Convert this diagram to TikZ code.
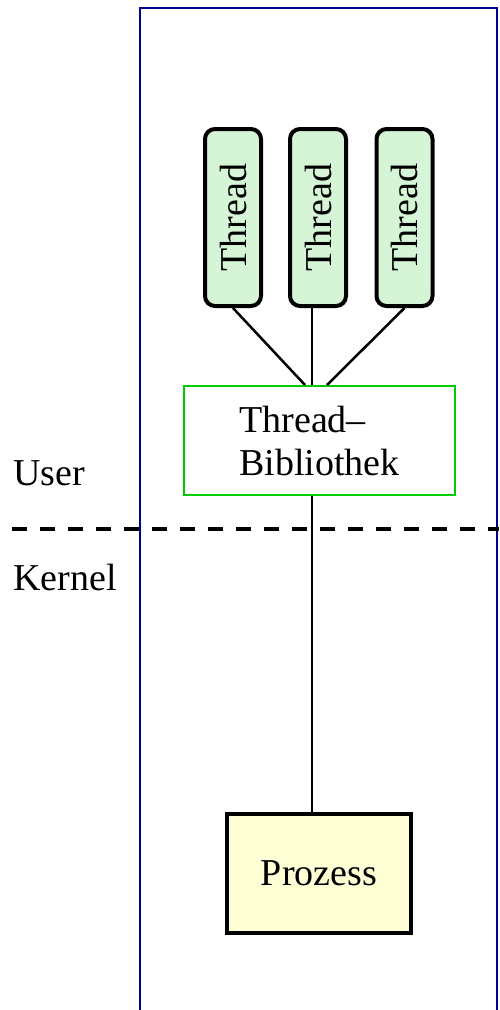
\documentclass[tikz,border=0pt]{standalone}
\usepackage{fontspec}
\setmainfont{Liberation Serif}
\definecolor{threadfill}{RGB}{214,245,214}
\definecolor{prozfill}{RGB}{255,255,214}
\definecolor{libgreen}{RGB}{0,204,0}
\definecolor{boxblue}{RGB}{0,0,140}
\begin{document}
\begin{tikzpicture}[x=1pt,y=-1pt,
  bigfont/.style={font=\fontsize{38}{43}\selectfont},
  threadbox/.style={draw, line width=4pt, rounded corners=10pt, fill=threadfill, rotate=90,
    minimum width=177pt, minimum height=56pt, inner sep=0pt, bigfont},
  libbox/.style={draw=libgreen, line width=2pt, fill=white, minimum width=271pt, minimum height=109pt,
    inner sep=0pt, align=left, bigfont},
  procbox/.style={draw, line width=4pt, fill=prozfill, minimum width=184pt, minimum height=119pt,
    inner sep=0pt, bigfont},
  edge/.style={line width=2.5pt},
  lbl/.style={anchor=base west, inner sep=0pt, bigfont}]
\useasboundingbox (0,0) rectangle (499,1010);
\draw[boxblue, line width=2.2pt] (140,8) rectangle (497,1016);
\draw[line width=4pt, dash pattern=on 15pt off 13pt] (12,529) -- (499,529);
\node[lbl] (user) at (13,485) {User};
\node[lbl] (kernel) at (13,590) {Kernel};
\node[threadbox] (t1) at (233,217.5) {Thread};
\node[threadbox] (t2) at (318,217.5) {Thread};
\node[threadbox] (t3) at (404.5,217.5) {Thread};
\node[libbox] (lib) at (319.5,440.5) {Thread--\\Bibliothek};
\node[procbox] (proz) at (319,873.5) {Prozess};
\coordinate (lb1) at (305,385);
\coordinate (lb2) at (312,385);
\coordinate (lb3) at (327,385);
\coordinate (pt) at (312,812);
\draw[edge] (t1.west) -- (lb1);
\draw[edge] (t2.west -| lb2) -- (lb2);
\draw[edge] (t3.west) -- (lb3);
\draw[edge] (lib.south -| pt) -- (pt);
\end{tikzpicture}
\end{document}
